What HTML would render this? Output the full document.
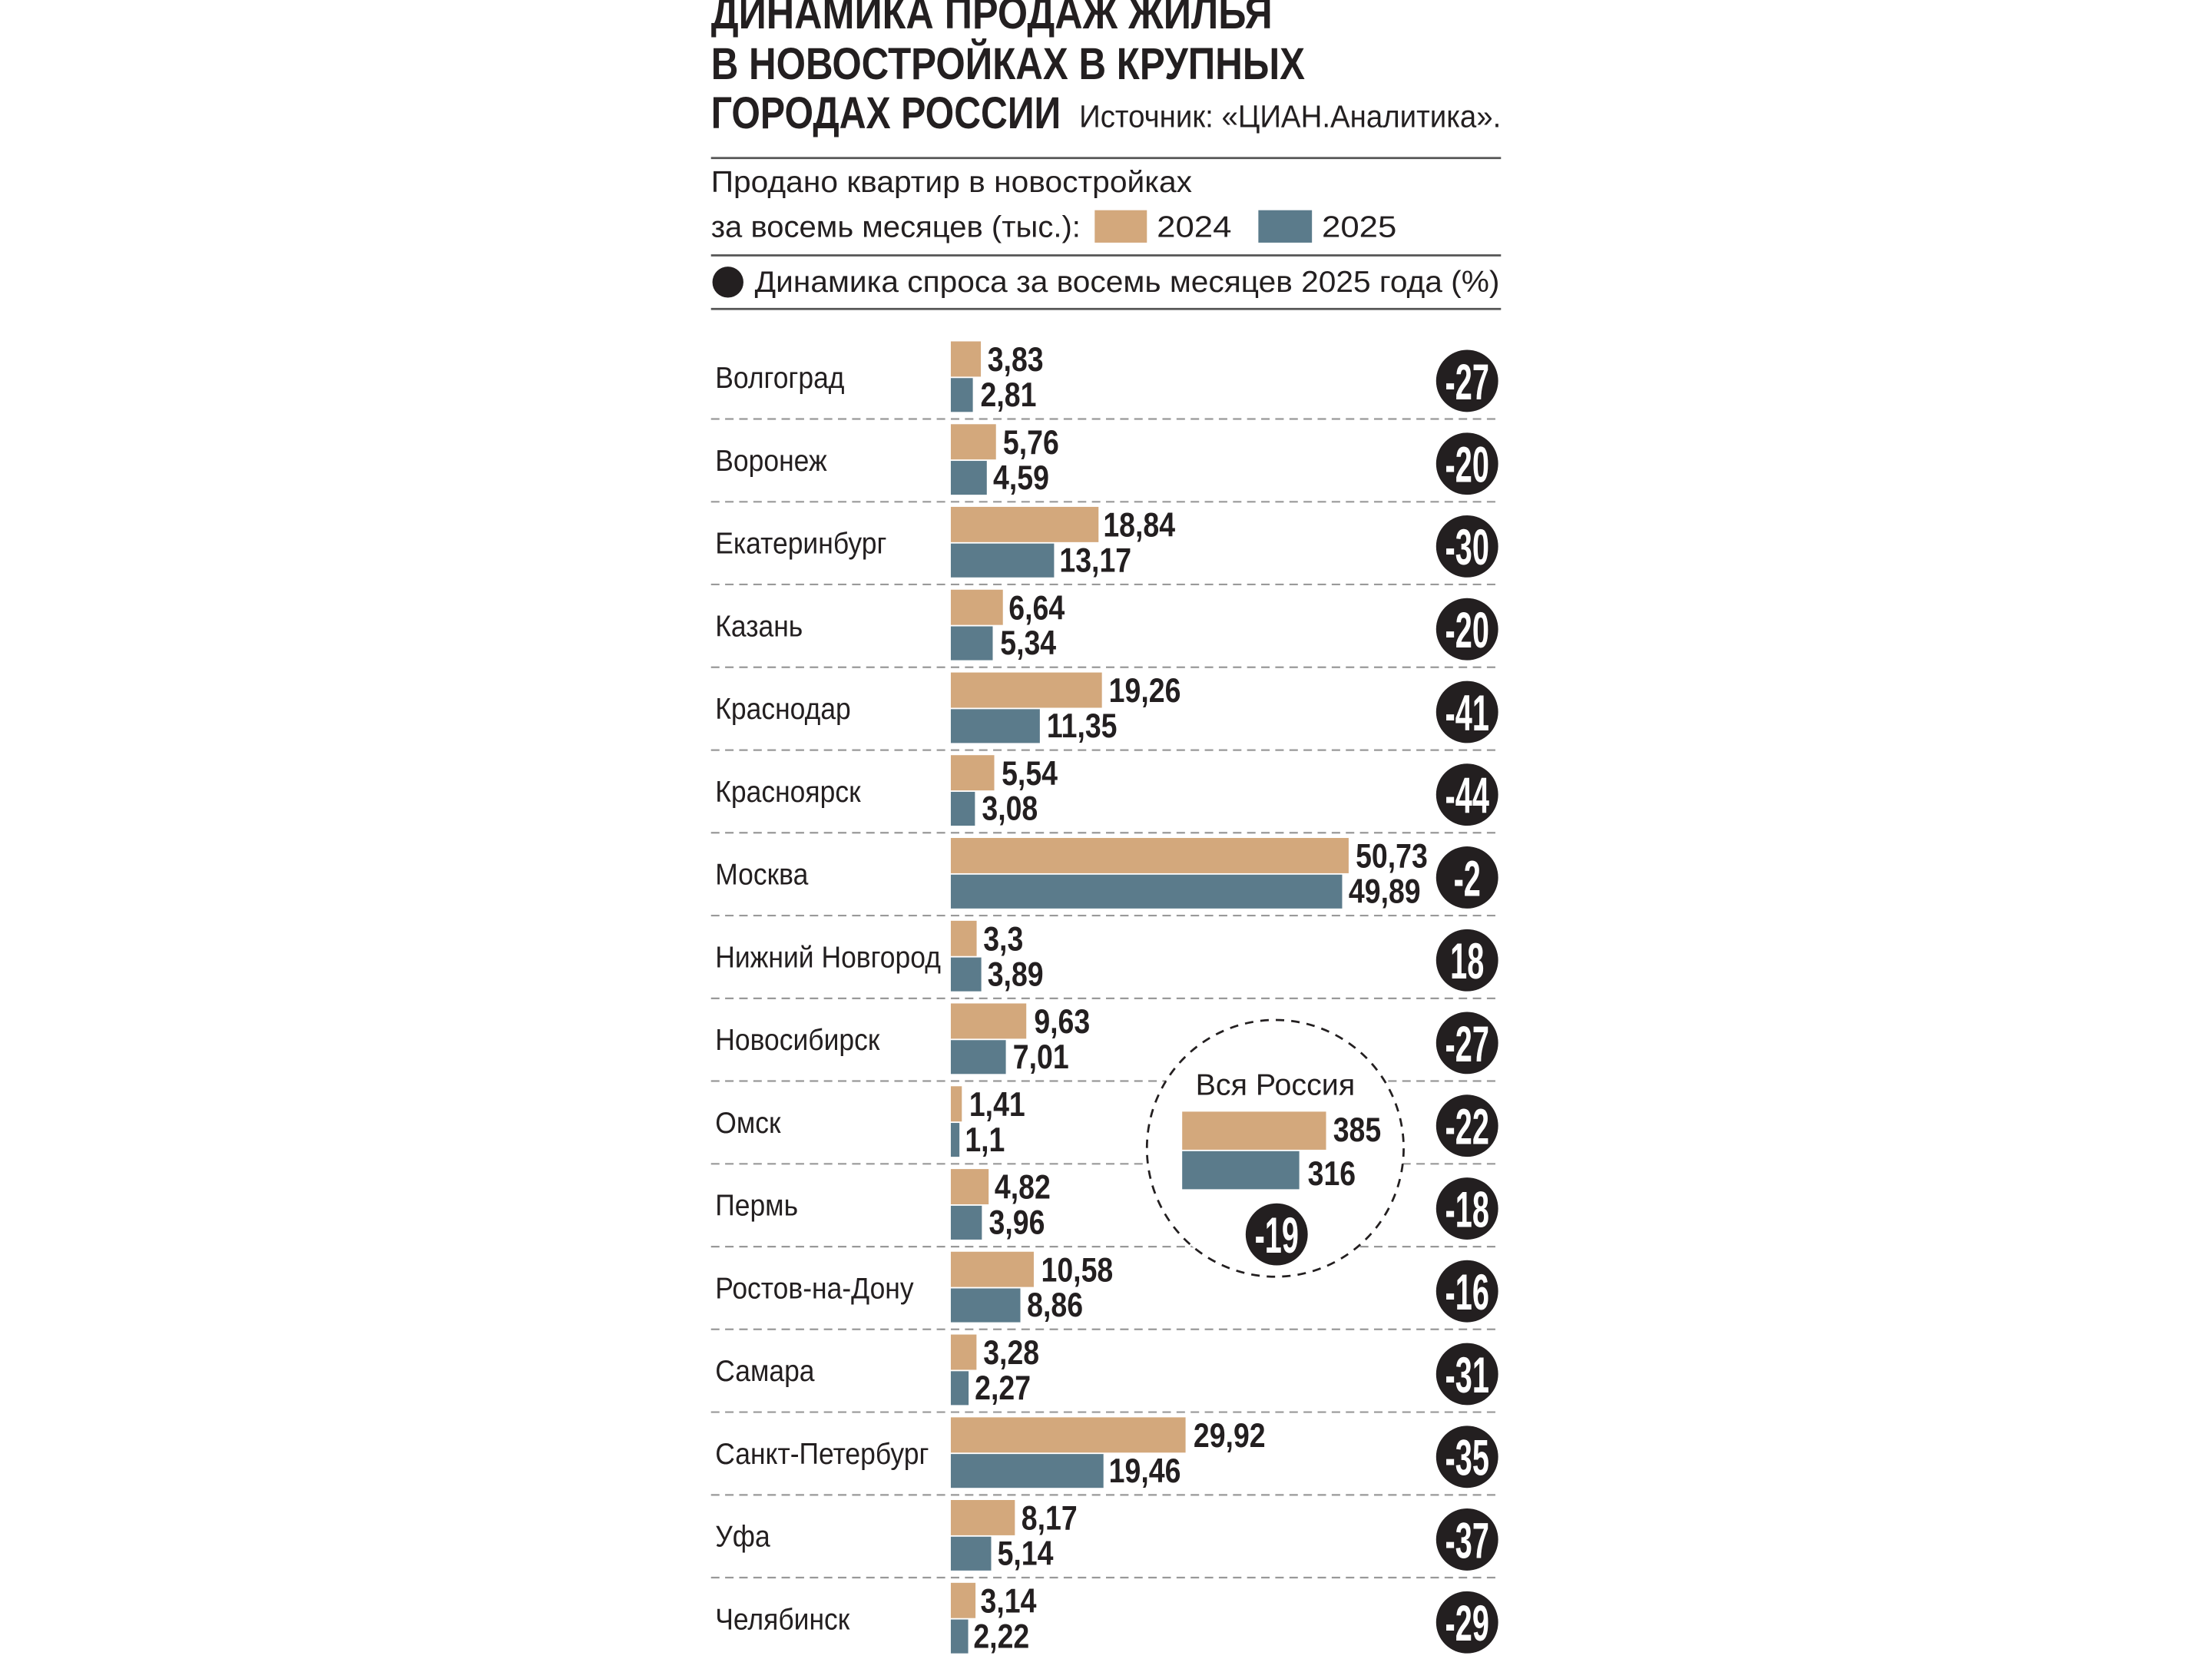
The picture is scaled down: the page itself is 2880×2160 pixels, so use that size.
<!DOCTYPE html>
<html><head><meta charset="utf-8"><style>
html,body{margin:0;padding:0;background:#fff;}
svg{display:block;}
text{font-family:"Liberation Sans","DejaVu Sans",sans-serif;fill:#231f20;}
.b{font-weight:bold;}
.c{font-size:21px;}
.v{font-size:24px;font-weight:bold;}
.p{font-size:36px;font-weight:bold;fill:#fff;}
</style></head><body>
<svg width="2880" height="2160" viewBox="0 0 1568 1176" xmlns="http://www.w3.org/2000/svg">
<rect width="1568" height="1176" fill="#fff"/>
<text class="b" x="504" y="20" font-size="32" textLength="398" lengthAdjust="spacingAndGlyphs">ДИНАМИКА ПРОДАЖ ЖИЛЬЯ</text>
<text class="b" x="504" y="56" font-size="32" textLength="421" lengthAdjust="spacingAndGlyphs">В НОВОСТРОЙКАХ В КРУПНЫХ</text>
<text class="b" x="504" y="91" font-size="32" textLength="248" lengthAdjust="spacingAndGlyphs">ГОРОДАХ РОССИИ</text>
<text x="765" y="90" font-size="22" textLength="299" lengthAdjust="spacingAndGlyphs">Источник: «ЦИАН.Аналитика».</text>
<line x1="504" y1="112" x2="1064" y2="112" stroke="#555" stroke-width="1.5"/>
<text x="504" y="136" font-size="21" textLength="341" lengthAdjust="spacingAndGlyphs">Продано квартир в новостройках</text>
<text x="504" y="168" font-size="21" textLength="262" lengthAdjust="spacingAndGlyphs">за восемь месяцев (тыс.):</text>
<rect x="776" y="149" width="37" height="23" fill="#d3a87c"/>
<text x="820" y="168" font-size="21" textLength="53" lengthAdjust="spacingAndGlyphs">2024</text>
<rect x="892" y="149" width="38" height="23" fill="#5b7b8b"/>
<text x="937" y="168" font-size="21" textLength="53" lengthAdjust="spacingAndGlyphs">2025</text>
<line x1="504" y1="181" x2="1064" y2="181" stroke="#555" stroke-width="1.5"/>
<circle cx="516" cy="200" r="11" fill="#231f20"/>
<text x="535" y="207" font-size="21" textLength="528" lengthAdjust="spacingAndGlyphs">Динамика спроса за восемь месяцев 2025 года (%)</text>
<line x1="504" y1="219" x2="1064" y2="219" stroke="#555" stroke-width="1.5"/>

<g stroke="#999" stroke-width="1.2" stroke-dasharray="6,4">
<line x1="504" y1="297" x2="1060" y2="297"/>
<line x1="504" y1="355.7" x2="1060" y2="355.7"/>
<line x1="504" y1="414.3" x2="1060" y2="414.3"/>
<line x1="504" y1="473" x2="1060" y2="473"/>
<line x1="504" y1="531.7" x2="1060" y2="531.7"/>
<line x1="504" y1="590.3" x2="1060" y2="590.3"/>
<line x1="504" y1="649" x2="1060" y2="649"/>
<line x1="504" y1="707.7" x2="1060" y2="707.7"/>
<line x1="504" y1="766.3" x2="1060" y2="766.3"/>
<line x1="504" y1="825" x2="1060" y2="825"/>
<line x1="504" y1="883.7" x2="1060" y2="883.7"/>
<line x1="504" y1="942.3" x2="1060" y2="942.3"/>
<line x1="504" y1="1001" x2="1060" y2="1001"/>
<line x1="504" y1="1059.7" x2="1060" y2="1059.7"/>
<line x1="504" y1="1118.3" x2="1060" y2="1118.3"/>
</g>

<g transform="translate(0,268)">
<text class="c" transform="translate(507,7) scale(0.92,1)">Волгоград</text>
<rect x="674" y="-26" width="21.3" height="25" fill="#d3a87c"/><rect x="674" y="0" width="15.6" height="24" fill="#5b7b8b"/>
<text class="v" transform="translate(700,-5) scale(0.85,1)">3,83</text><text class="v" transform="translate(695,20) scale(0.85,1)">2,81</text>
<circle cx="1040" cy="2" r="22" fill="#231f20"/><text class="p" text-anchor="middle" transform="translate(1040,15) scale(0.6,1)">-27</text>
</g>
<g transform="translate(0,326.7)">
<text class="c" transform="translate(507,7) scale(0.92,1)">Воронеж</text>
<rect x="674" y="-26" width="32" height="25" fill="#d3a87c"/><rect x="674" y="0" width="25.5" height="24" fill="#5b7b8b"/>
<text class="v" transform="translate(711,-5) scale(0.85,1)">5,76</text><text class="v" transform="translate(704,20) scale(0.85,1)">4,59</text>
<circle cx="1040" cy="2" r="22" fill="#231f20"/><text class="p" text-anchor="middle" transform="translate(1040,15) scale(0.6,1)">-20</text>
</g>
<g transform="translate(0,385.3)">
<text class="c" transform="translate(507,7) scale(0.92,1)">Екатеринбург</text>
<rect x="674" y="-26" width="104.7" height="25" fill="#d3a87c"/><rect x="674" y="0" width="73.2" height="24" fill="#5b7b8b"/>
<text class="v" transform="translate(782,-5) scale(0.85,1)">18,84</text><text class="v" transform="translate(751,20) scale(0.85,1)">13,17</text>
<circle cx="1040" cy="2" r="22" fill="#231f20"/><text class="p" text-anchor="middle" transform="translate(1040,15) scale(0.6,1)">-30</text>
</g>
<g transform="translate(0,444)">
<text class="c" transform="translate(507,7) scale(0.92,1)">Казань</text>
<rect x="674" y="-26" width="36.9" height="25" fill="#d3a87c"/><rect x="674" y="0" width="29.7" height="24" fill="#5b7b8b"/>
<text class="v" transform="translate(715,-5) scale(0.85,1)">6,64</text><text class="v" transform="translate(709,20) scale(0.85,1)">5,34</text>
<circle cx="1040" cy="2" r="22" fill="#231f20"/><text class="p" text-anchor="middle" transform="translate(1040,15) scale(0.6,1)">-20</text>
</g>
<g transform="translate(0,502.7)">
<text class="c" transform="translate(507,7) scale(0.92,1)">Краснодар</text>
<rect x="674" y="-26" width="107.1" height="25" fill="#d3a87c"/><rect x="674" y="0" width="63.1" height="24" fill="#5b7b8b"/>
<text class="v" transform="translate(786,-5) scale(0.85,1)">19,26</text><text class="v" transform="translate(742,20) scale(0.85,1)">11,35</text>
<circle cx="1040" cy="2" r="22" fill="#231f20"/><text class="p" text-anchor="middle" transform="translate(1040,15) scale(0.6,1)">-41</text>
</g>
<g transform="translate(0,561.3)">
<text class="c" transform="translate(507,7) scale(0.92,1)">Красноярск</text>
<rect x="674" y="-26" width="30.8" height="25" fill="#d3a87c"/><rect x="674" y="0" width="17.1" height="24" fill="#5b7b8b"/>
<text class="v" transform="translate(710,-5) scale(0.85,1)">5,54</text><text class="v" transform="translate(696,20) scale(0.85,1)">3,08</text>
<circle cx="1040" cy="2" r="22" fill="#231f20"/><text class="p" text-anchor="middle" transform="translate(1040,15) scale(0.6,1)">-44</text>
</g>
<g transform="translate(0,620)">
<text class="c" transform="translate(507,7) scale(0.92,1)">Москва</text>
<rect x="674" y="-26" width="282" height="25" fill="#d3a87c"/><rect x="674" y="0" width="277.4" height="24" fill="#5b7b8b"/>
<text class="v" transform="translate(961,-5) scale(0.85,1)">50,73</text><text class="v" transform="translate(956,20) scale(0.85,1)">49,89</text>
<circle cx="1040" cy="2" r="22" fill="#231f20"/><text class="p" text-anchor="middle" transform="translate(1040,15) scale(0.6,1)">-2</text>
</g>
<g transform="translate(0,678.7)">
<text class="c" transform="translate(507,7) scale(0.92,1)">Нижний Новгород</text>
<rect x="674" y="-26" width="18.3" height="25" fill="#d3a87c"/><rect x="674" y="0" width="21.6" height="24" fill="#5b7b8b"/>
<text class="v" transform="translate(697,-5) scale(0.85,1)">3,3</text><text class="v" transform="translate(700,20) scale(0.85,1)">3,89</text>
<circle cx="1040" cy="2" r="22" fill="#231f20"/><text class="p" text-anchor="middle" transform="translate(1040,15) scale(0.6,1)">18</text>
</g>
<g transform="translate(0,737.3)">
<text class="c" transform="translate(507,7) scale(0.92,1)">Новосибирск</text>
<rect x="674" y="-26" width="53.5" height="25" fill="#d3a87c"/><rect x="674" y="0" width="39" height="24" fill="#5b7b8b"/>
<text class="v" transform="translate(733,-5) scale(0.85,1)">9,63</text><text class="v" transform="translate(718,20) scale(0.85,1)">7,01</text>
<circle cx="1040" cy="2" r="22" fill="#231f20"/><text class="p" text-anchor="middle" transform="translate(1040,15) scale(0.6,1)">-27</text>
</g>
<g transform="translate(0,796)">
<text class="c" transform="translate(507,7) scale(0.92,1)">Омск</text>
<rect x="674" y="-26" width="7.8" height="25" fill="#d3a87c"/><rect x="674" y="0" width="6.1" height="24" fill="#5b7b8b"/>
<text class="v" transform="translate(687,-5) scale(0.85,1)">1,41</text><text class="v" transform="translate(684,20) scale(0.85,1)">1,1</text>
<circle cx="1040" cy="2" r="22" fill="#231f20"/><text class="p" text-anchor="middle" transform="translate(1040,15) scale(0.6,1)">-22</text>
</g>
<g transform="translate(0,854.7)">
<text class="c" transform="translate(507,7) scale(0.92,1)">Пермь</text>
<rect x="674" y="-26" width="26.8" height="25" fill="#d3a87c"/><rect x="674" y="0" width="22" height="24" fill="#5b7b8b"/>
<text class="v" transform="translate(705,-5) scale(0.85,1)">4,82</text><text class="v" transform="translate(701,20) scale(0.85,1)">3,96</text>
<circle cx="1040" cy="2" r="22" fill="#231f20"/><text class="p" text-anchor="middle" transform="translate(1040,15) scale(0.6,1)">-18</text>
</g>
<g transform="translate(0,913.3)">
<text class="c" transform="translate(507,7) scale(0.92,1)">Ростов-на-Дону</text>
<rect x="674" y="-26" width="58.8" height="25" fill="#d3a87c"/><rect x="674" y="0" width="49.3" height="24" fill="#5b7b8b"/>
<text class="v" transform="translate(738,-5) scale(0.85,1)">10,58</text><text class="v" transform="translate(728,20) scale(0.85,1)">8,86</text>
<circle cx="1040" cy="2" r="22" fill="#231f20"/><text class="p" text-anchor="middle" transform="translate(1040,15) scale(0.6,1)">-16</text>
</g>
<g transform="translate(0,972)">
<text class="c" transform="translate(507,7) scale(0.92,1)">Самара</text>
<rect x="674" y="-26" width="18.2" height="25" fill="#d3a87c"/><rect x="674" y="0" width="12.6" height="24" fill="#5b7b8b"/>
<text class="v" transform="translate(697,-5) scale(0.85,1)">3,28</text><text class="v" transform="translate(691,20) scale(0.85,1)">2,27</text>
<circle cx="1040" cy="2" r="22" fill="#231f20"/><text class="p" text-anchor="middle" transform="translate(1040,15) scale(0.6,1)">-31</text>
</g>
<g transform="translate(0,1030.7)">
<text class="c" transform="translate(507,7) scale(0.92,1)">Санкт-Петербург</text>
<rect x="674" y="-26" width="166.4" height="25" fill="#d3a87c"/><rect x="674" y="0" width="108.2" height="24" fill="#5b7b8b"/>
<text class="v" transform="translate(846,-5) scale(0.85,1)">29,92</text><text class="v" transform="translate(786,20) scale(0.85,1)">19,46</text>
<circle cx="1040" cy="2" r="22" fill="#231f20"/><text class="p" text-anchor="middle" transform="translate(1040,15) scale(0.6,1)">-35</text>
</g>
<g transform="translate(0,1089.3)">
<text class="c" transform="translate(507,7) scale(0.92,1)">Уфа</text>
<rect x="674" y="-26" width="45.4" height="25" fill="#d3a87c"/><rect x="674" y="0" width="28.6" height="24" fill="#5b7b8b"/>
<text class="v" transform="translate(724,-5) scale(0.85,1)">8,17</text><text class="v" transform="translate(707,20) scale(0.85,1)">5,14</text>
<circle cx="1040" cy="2" r="22" fill="#231f20"/><text class="p" text-anchor="middle" transform="translate(1040,15) scale(0.6,1)">-37</text>
</g>
<g transform="translate(0,1148)">
<text class="c" transform="translate(507,7) scale(0.92,1)">Челябинск</text>
<rect x="674" y="-26" width="17.5" height="25" fill="#d3a87c"/><rect x="674" y="0" width="12.3" height="24" fill="#5b7b8b"/>
<text class="v" transform="translate(695,-5) scale(0.85,1)">3,14</text><text class="v" transform="translate(690,20) scale(0.85,1)">2,22</text>
<circle cx="1040" cy="2" r="22" fill="#231f20"/><text class="p" text-anchor="middle" transform="translate(1040,15) scale(0.6,1)">-29</text>
</g>

<circle cx="904" cy="814" r="91" fill="#fff" stroke="#231f20" stroke-width="1.5" stroke-dasharray="6,5"/>
<text x="904" y="776" font-size="21" text-anchor="middle" textLength="113" lengthAdjust="spacingAndGlyphs">Вся Россия</text>
<rect x="838" y="788" width="102" height="27" fill="#d3a87c"/>
<rect x="838" y="816" width="83" height="27" fill="#5b7b8b"/>
<text class="v" transform="translate(945,809) scale(0.85,1)">385</text>
<text class="v" transform="translate(927,840) scale(0.85,1)">316</text>
<circle cx="905" cy="875" r="22" fill="#231f20"/><text class="p" text-anchor="middle" transform="translate(905,888) scale(0.6,1)">-19</text>
</svg>
</body></html>
